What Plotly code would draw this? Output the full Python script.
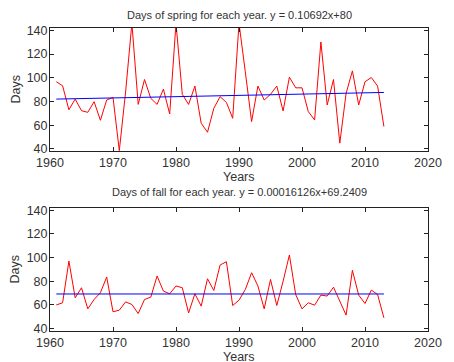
import plotly.graph_objects as go

years = list(range(1961, 2014))
spring_days = [96.6, 93.2, 73, 82, 72.2, 70.8, 79.8, 64.1, 81.2, 83.4,
               38.5, 88, 146, 77.5, 98.5, 82.6, 77.5, 90.4, 69.4, 146,
               86, 77.5, 93, 61.6, 54, 74.2, 84, 79.2, 65.8, 146,
               105, 63, 93, 81.2, 86, 93, 72, 100.5, 91.5, 91.5,
               71.4, 64.4, 130.2, 77, 98.5, 44.8, 86.8, 105.8, 77, 96.6,
               100.2, 93, 58.8]
fall_days = [60, 61.8, 97, 66, 74.5, 56.7, 64.6, 70.3, 83.6, 54.2,
             55.6, 62.6, 60.4, 52.7, 64.6, 66.6, 84.4, 71.7, 69.4, 76,
             74.5, 53.3, 69.4, 59, 82.1, 72.2, 93.7, 96.5, 59.5, 64,
             73, 87.2, 76, 56.7, 81.5, 59.5, 80, 102.2, 68.8, 56.7,
             61.8, 59.8, 68.3, 67.5, 75, 63.2, 51.4, 89.2, 68.3, 61.2,
             72.5, 68.8, 49.1]
trend_years = [1961, 2013]
spring_trend = [82.0, 87.6]
fall_trend = [69.24, 69.25]

spring_title = "Days of spring for each year. y = 0.10692x+80"
fall_title = "Days of fall for each year. y = 0.00016126x+69.2409"
x_ticks = [1960, 1970, 1980, 1990, 2000, 2010, 2020]
y_ticks = [40, 60, 80, 100, 120, 140]

txt = "#333333"
fam = "Liberation Sans, Arial, sans-serif"
font = dict(family=fam, size=12.5, color=txt)

fig = go.Figure()
fig.add_trace(go.Scatter(x=years, y=spring_days, mode="lines",
                         line=dict(color="#ff0000", width=1), xaxis="x", yaxis="y"))
fig.add_trace(go.Scatter(x=trend_years, y=spring_trend, mode="lines",
                         line=dict(color="#0000ff", width=1), xaxis="x", yaxis="y"))
fig.add_trace(go.Scatter(x=years, y=fall_days, mode="lines",
                         line=dict(color="#ff0000", width=1), xaxis="x2", yaxis="y2"))
fig.add_trace(go.Scatter(x=trend_years, y=fall_trend, mode="lines",
                         line=dict(color="#0000ff", width=1), xaxis="x2", yaxis="y2"))

ax_common = dict(showgrid=False, zeroline=False, showline=True, linecolor="#222222",
                 linewidth=1, mirror="ticks", ticks="inside", ticklen=4,
                 tickcolor="#222222", tickfont=font)
x_common = dict(range=[1960, 2020], tickvals=x_ticks, **ax_common)
y_common = dict(range=[38, 142], tickvals=y_ticks, ticklabelstandoff=-1, **ax_common)

# page has an 8px body margin, so the figure is sized 8px smaller
fig.update_layout(
    width=446, height=354,
    margin=dict(l=42, r=15, t=20, b=29),
    paper_bgcolor="white", plot_bgcolor="white",
    showlegend=False,
    font=font,
    xaxis=dict(domain=[0, 1], anchor="y", **x_common),
    yaxis=dict(domain=[0.5934, 1], anchor="x", **y_common),
    xaxis2=dict(domain=[0, 1], anchor="y2", **x_common),
    yaxis2=dict(domain=[0, 0.4066], anchor="x2", **y_common),
    annotations=[
        dict(text=spring_title, x=0.5, y=1.0426, xref="paper", yref="paper",
             showarrow=False, xanchor="center", yanchor="middle",
             font=dict(family=fam, size=11, color=txt)),
        dict(text=fall_title, x=0.5, y=0.459, xref="paper", yref="paper",
             showarrow=False, xanchor="center", yanchor="middle",
             font=dict(family=fam, size=11, color=txt)),
        dict(text="Years", x=0.5, y=0.508, xref="paper", yref="paper",
             showarrow=False, xanchor="center", yanchor="middle", font=font),
        dict(text="Years", x=0.5, y=-0.086, xref="paper", yref="paper",
             showarrow=False, xanchor="center", yanchor="middle", font=font),
        dict(text="Days", x=-0.09, y=0.797, xref="paper", yref="paper", textangle=-90,
             showarrow=False, xanchor="center", yanchor="middle", font=font),
        dict(text="Days", x=-0.09, y=0.203, xref="paper", yref="paper", textangle=-90,
             showarrow=False, xanchor="center", yanchor="middle", font=font),
    ],
)

fig.write_html("out.html")
